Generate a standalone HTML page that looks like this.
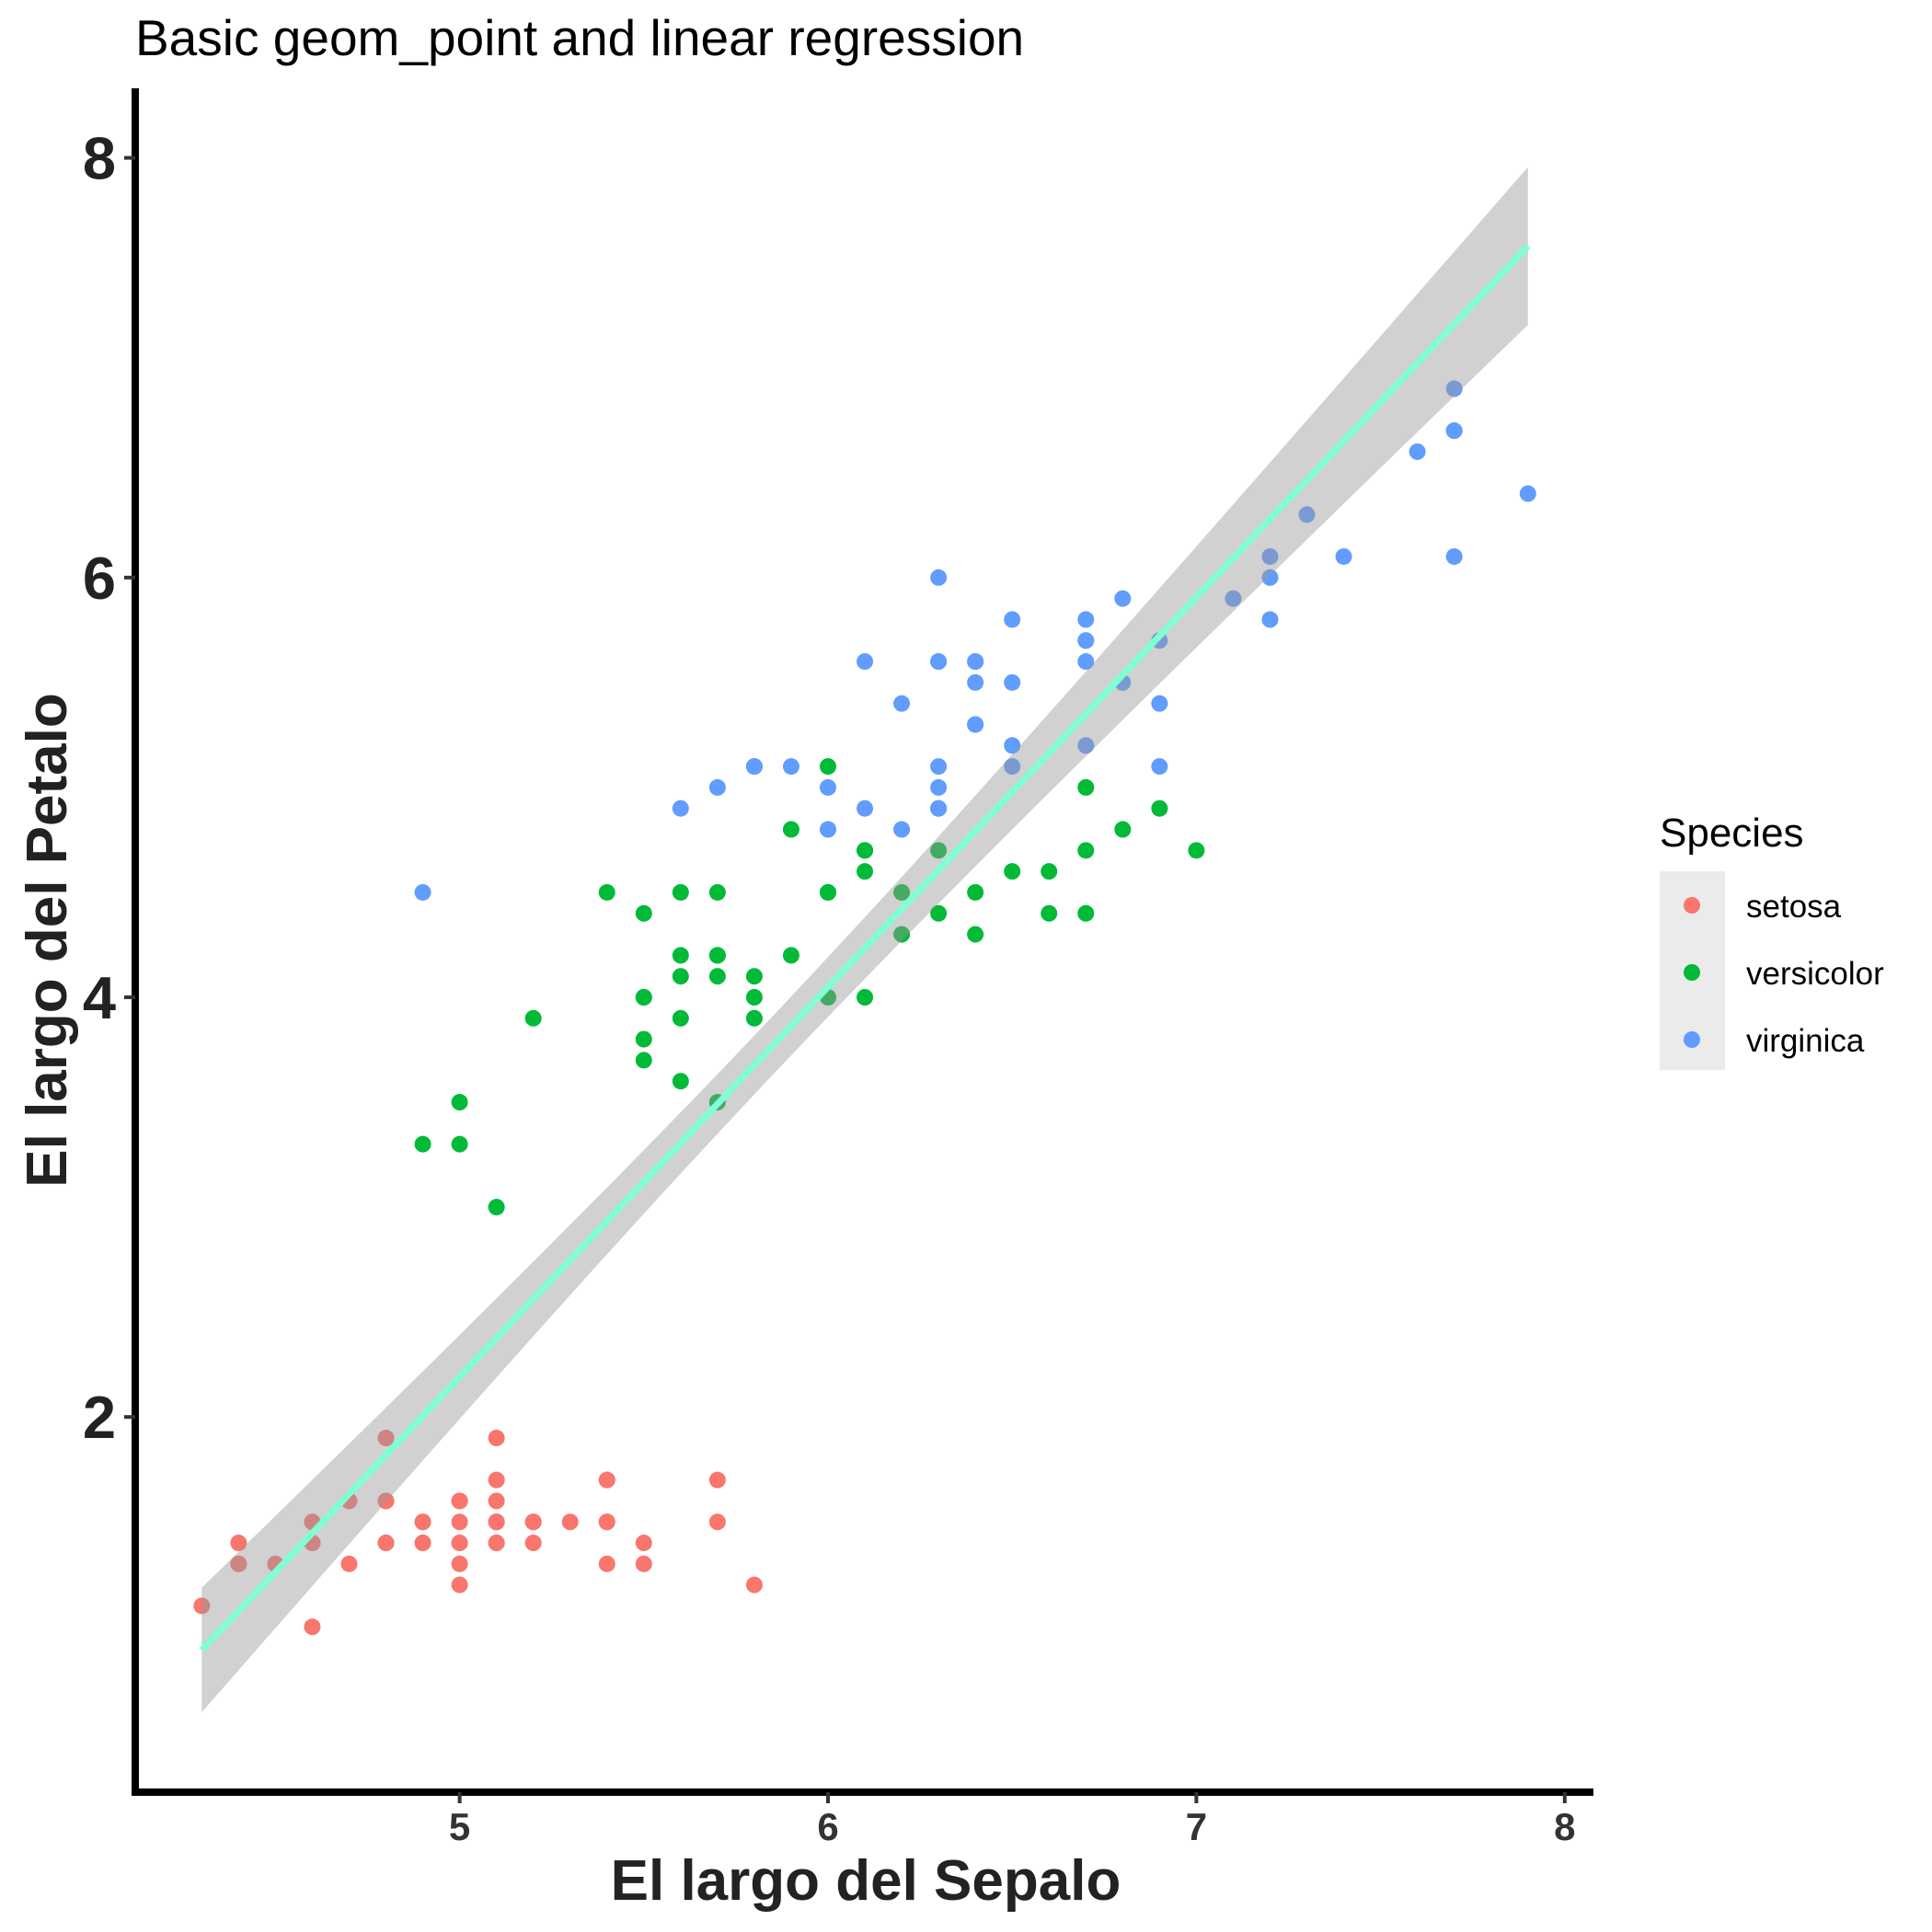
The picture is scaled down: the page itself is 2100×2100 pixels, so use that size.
<!DOCTYPE html>
<html><head><meta charset="utf-8">
<style>
html,body{margin:0;padding:0;background:#fff;}
svg{display:block;font-family:"Liberation Sans",Arial,sans-serif;}
</style></head>
<body>
<svg id="chart" width="2100" height="2100" viewBox="0 0 2100 2100">
<text x="147" y="60" font-size="55" fill="#000">Basic geom_point and linear regression</text>
<g id="plot"></g>
<g id="axes"></g>
<text x="941" y="2065" font-size="62" font-weight="bold" text-anchor="middle" fill="#222">El largo del Sepalo</text>
<text transform="translate(72,1022) rotate(-90)" font-size="62" font-weight="bold" text-anchor="middle" fill="#222">El largo del Petalo</text>
<g>
<text x="1804" y="920" font-size="44" fill="#000">Species</text>
<rect x="1804" y="947" width="71" height="216" fill="#ebebeb"/>
<g><circle cx="1839" cy="984" r="9" fill="#F8766D"/><text x="1898" y="997" font-size="35" fill="#000">setosa</text></g>
<g><circle cx="1839" cy="1057" r="9" fill="#00BA38"/><text x="1898" y="1070" font-size="35" fill="#000">versicolor</text></g>
<g><circle cx="1839" cy="1130" r="9" fill="#619CFF"/><text x="1898" y="1143" font-size="35" fill="#000">virginica</text></g>
</g>
</svg>
<script>
const setosaSL=[5.1,4.9,4.7,4.6,5.0,5.4,4.6,5.0,4.4,4.9,5.4,4.8,4.8,4.3,5.8,5.7,5.4,5.1,5.7,5.1,5.4,5.1,4.6,5.1,4.8,5.0,5.0,5.2,5.2,4.7,4.8,5.4,5.2,5.5,4.9,5.0,5.5,4.9,4.4,5.1,5.0,4.5,4.4,5.0,5.1,4.8,5.1,4.6,5.3,5.0];
const setosaPL=[1.4,1.4,1.3,1.5,1.4,1.7,1.4,1.5,1.4,1.5,1.5,1.6,1.4,1.1,1.2,1.5,1.3,1.4,1.7,1.5,1.7,1.5,1.0,1.7,1.9,1.6,1.6,1.5,1.4,1.6,1.6,1.5,1.5,1.4,1.5,1.2,1.3,1.4,1.3,1.5,1.3,1.3,1.3,1.6,1.9,1.4,1.6,1.4,1.5,1.4];
const versiSL=[7.0,6.4,6.9,5.5,6.5,5.7,6.3,4.9,6.6,5.2,5.0,5.9,6.0,6.1,5.6,6.7,5.6,5.8,6.2,5.6,5.9,6.1,6.3,6.1,6.4,6.6,6.8,6.7,6.0,5.7,5.5,5.5,5.8,6.0,5.4,6.0,6.7,6.3,5.6,5.5,5.5,6.1,5.8,5.0,5.6,5.7,5.7,6.2,5.1,5.7];
const versiPL=[4.7,4.5,4.9,4.0,4.6,4.5,4.7,3.3,4.6,3.9,3.5,4.2,4.0,4.7,3.6,4.4,4.5,4.1,4.5,3.9,4.8,4.0,4.9,4.7,4.3,4.4,4.8,5.0,4.5,3.5,3.8,3.7,3.9,5.1,4.5,4.5,4.7,4.4,4.1,4.0,4.4,4.6,4.0,3.3,4.2,4.2,4.2,4.3,3.0,4.1];
const virgSL=[6.3,5.8,7.1,6.3,6.5,7.6,4.9,7.3,6.7,7.2,6.5,6.4,6.8,5.7,5.8,6.4,6.5,7.7,7.7,6.0,6.9,5.6,7.7,6.3,6.7,7.2,6.2,6.1,6.4,7.2,7.4,7.9,6.4,6.3,6.1,7.7,6.3,6.4,6.0,6.9,6.7,6.9,5.8,6.8,6.7,6.7,6.3,6.5,6.2,5.9];
const virgPL=[6.0,5.1,5.9,5.6,5.8,6.6,4.5,6.3,5.8,6.1,5.1,5.3,5.5,5.0,5.1,5.3,5.5,6.7,6.9,5.0,5.7,4.9,6.7,4.9,5.7,6.0,4.8,4.9,5.6,5.8,6.1,6.4,5.6,5.1,5.6,6.1,5.6,5.5,4.8,5.4,5.6,5.1,5.1,5.9,5.7,5.2,5.0,5.2,5.4,5.1];
const xTicks=[5,6,7,8];
const yTicks=[2,4,6,8];
const X=v=>499.6+(v-5)*400.4;
const Y=v=>1540.2-(v-2)*228.1;
const NS="http://www.w3.org/2000/svg";
const plot=document.getElementById('plot'), axes=document.getElementById('axes');
function mk(tag,attrs,parent){const e=document.createElementNS(NS,tag);for(const k in attrs)e.setAttribute(k,attrs[k]);parent.appendChild(e);return e;}
const groups=[[setosaSL,setosaPL,'#F8766D','setosa'],[versiSL,versiPL,'#00BA38','versicolor'],[virgSL,virgPL,'#619CFF','virginica']];
for(const [xs,ys,col,nm] of groups){
  xs.forEach((x,i)=>{
    const c=mk('circle',{cx:X(x),cy:Y(ys[i]),r:9,fill:col},plot);
    
    
  });
}
const allX=[].concat(setosaSL,versiSL,virgSL), allY=[].concat(setosaPL,versiPL,virgPL);
const n=allX.length, mx=allX.reduce((a,b)=>a+b)/n, my=allY.reduce((a,b)=>a+b)/n;
let sxx=0,sxy=0;allX.forEach((x,i)=>{sxx+=(x-mx)**2;sxy+=(x-mx)*(allY[i]-my);});
const b=sxy/sxx,a=my-b*mx;let sse=0;allX.forEach((x,i)=>{sse+=(allY[i]-a-b*x)**2;});
const s=Math.sqrt(sse/(n-2)),t=1.976;
const x0=Math.min(...allX),x1=Math.max(...allX);
let up=[],lo=[];
for(let k=0;k<=80;k++){const x=x0+(x1-x0)*k/80,f=a+b*x,se=t*s*Math.sqrt(1/n+(x-mx)**2/sxx);up.push(X(x)+','+Y(f+se));lo.unshift(X(x)+','+Y(f-se));}
const band=mk('polygon',{points:up.concat(lo).join(' '),fill:'#999999','fill-opacity':0.45},plot);


const line=mk('line',{x1:X(x0),y1:Y(a+b*x0),x2:X(x1),y2:Y(a+b*x1),stroke:'#7FFFD4','stroke-width':7},plot);


const ax=mk('line',{x1:143,y1:1948,x2:1732,y2:1948,stroke:'#000','stroke-width':8},axes);


const ay=mk('line',{x1:147,y1:96,x2:147,y2:1952,stroke:'#000','stroke-width':8},axes);


xTicks.forEach(v=>{
  const tk=mk('line',{x1:X(v),y1:1948,x2:X(v),y2:1960,stroke:'#333','stroke-width':4},axes);
  
  
  const tl=mk('text',{x:X(v),y:2000,'font-size':42,'font-weight':'bold','text-anchor':'middle',fill:'#333'},axes);
  tl.textContent=v;
  
  
});
yTicks.forEach(v=>{
  const tk=mk('line',{x1:135,y1:Y(v),x2:147,y2:Y(v),stroke:'#333','stroke-width':4},axes);
  
  
  const tl=mk('text',{x:126,y:Y(v)+23,'font-size':65,'font-weight':'bold','text-anchor':'end',fill:'#222'},axes);
  tl.textContent=v;
  
  
});
</script>
</body></html>
